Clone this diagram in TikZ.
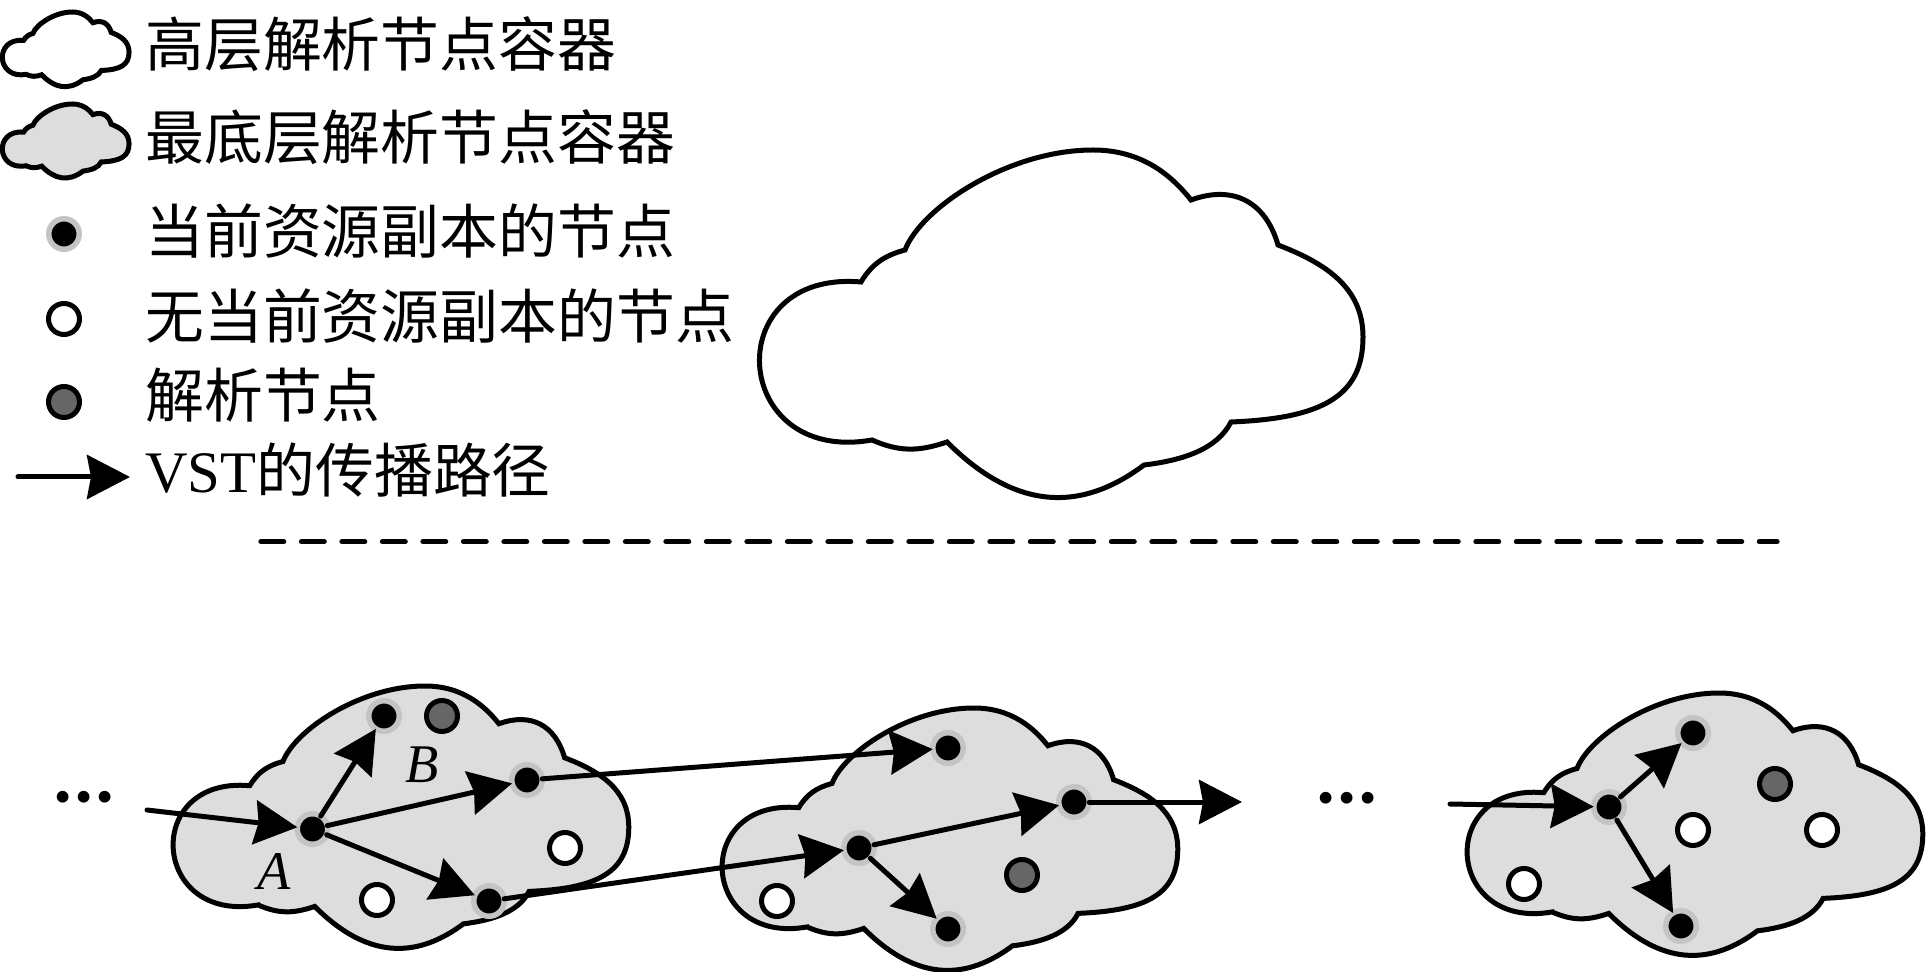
\documentclass[tikz,border=0pt]{standalone}
\usepackage{fontspec}
\setmainfont{Liberation Serif}
\newfontfamily\cjk{Noto Sans CJK SC}
\usetikzlibrary{arrows.meta}
\definecolor{cloudgray}{RGB}{221,221,221}
\definecolor{halo}{RGB}{196,196,196}
\definecolor{dotgray}{RGB}{102,102,102}
\newcommand{\cloudshape}{(114,290) .. controls (-28,315) and (-40,119.5) .. (103,132)
 .. controls (113.8,114) and (126.7,105.4) .. (147,100)
 .. controls (163.1,58) and (250,0) .. (335,0)
 .. controls (385,0) and (414.4,26.6) .. (433,50)
 .. controls (475.3,34.6) and (507.6,51.8) .. (520,95)
 .. controls (566.7,112.9) and (605,137) .. (605,187)
 .. controls (605,247) and (563,268.4) .. (473,272)
 .. controls (459.4,298.7) and (426,310.2) .. (386,315)
 .. controls (314,369) and (249,352) .. (189,292)
 .. controls (160.5,301.6) and (141.5,302) .. cycle}
\newcommand{\threedots}{•\kern0.074cm•\kern0.074cm•}
\begin{document}
\begin{tikzpicture}[x=0.02cm,y=-0.02cm,
  cloudline/.style={draw=black,line width=0.1cm,line join=miter},
  blk/.style={circle,inner sep=0pt,outer sep=0pt,minimum size=0.61cm,line width=0.11cm,draw=halo,fill=black},
  wht/.style={circle,inner sep=0pt,outer sep=0pt,minimum size=0.62cm,line width=0.1cm,draw=black,fill=white},
  gry/.style={wht,fill=dotgray},
  arr/.style={-{Stealth[length=0.86cm,width=0.88cm,inset=0.08cm]},line width=0.1cm,line cap=round},
  legtext/.style={anchor=west,inner sep=0pt,font=\fontsize{33.5pt}{40pt}\selectfont},
  lab/.style={inner sep=0pt,font=\fontsize{31pt}{36pt}\selectfont\itshape},
  ell/.style={anchor=center,inner sep=0pt,font=\fontsize{28pt}{32pt}\selectfont}]
\useasboundingbox (0,0) rectangle (1926,972);

% ---------- clouds ----------
\begin{scope}[shift={(2,12)},xscale=0.21,yscale=0.215]
  \draw[cloudline,fill=white] \cloudshape;
\end{scope}
\begin{scope}[shift={(2,104)},xscale=0.21,yscale=0.213]
  \draw[cloudline,fill=cloudgray] \cloudshape;
\end{scope}
\begin{scope}[shift={(758,150)}]
  \draw[cloudline,fill=white] \cloudshape;
\end{scope}
\begin{scope}[shift={(172,686)},scale=0.755]
  \draw[cloudline,fill=cloudgray] \cloudshape;
\end{scope}
\begin{scope}[shift={(721,708)},scale=0.755]
  \draw[cloudline,fill=cloudgray] \cloudshape;
\end{scope}
\begin{scope}[shift={(1466,693)},scale=0.755]
  \draw[cloudline,fill=cloudgray] \cloudshape;
\end{scope}

% ---------- legend ----------
\node[legtext] (t1) at (145,44) {\cjk 高层解析节点容器};
\node[legtext] (t2) at (145,137) {\cjk 最底层解析节点容器};
\node[blk] (L1) at (64,234) {};
\node[legtext] (t3) at (145,231) {\cjk 当前资源副本的节点};
\node[wht] (L2) at (64,319) {};
\node[legtext] (t4) at (145,316) {\cjk 无当前资源副本的节点};
\node[gry] (L3) at (64,402) {};
\node[legtext] (t5) at (145,395) {\cjk 解析节点};
\coordinate (la1) at (18,477);
\coordinate (la2) at (130,477);
\draw[arr] (la1) -- (la2);
\node[legtext] (t6) at (145,470) {VST{\cjk 的传播路径}};

% ---------- dashed separator ----------
\coordinate (d1) at (261,541.7);
\coordinate (d2) at (1777,541.7);
\draw[line width=0.106cm,line cap=round,dash pattern=on 12.9pt off 10.15pt] (d1) -- (d2);

% ---------- cloud 1 ----------
\node[ell] (e1) at (84,802) {\threedots};
\coordinate (c1in) at (147,810);
\node[blk] (A) at (312.5,829) {};
\node[blk] (N1t) at (384,716) {};
\node[gry] (G1) at (442,716) {};
\node[blk] (N1r) at (527,780) {};
\node[wht] (W1r) at (565,848) {};
\node[wht] (W1b) at (377,900) {};
\node[blk] (N1b) at (489,901) {};
\node[lab] (labA) at (274.5,872) {A};
\node[lab] (labB) at (422,765) {B};

% ---------- cloud 2 ----------
\node[blk] (N2t) at (948,748) {};
\node[blk] (N2l) at (859,848) {};
\node[blk] (N2r) at (1074,802) {};
\node[blk] (N2b) at (948,929) {};
\node[gry] (G2) at (1022,875) {};
\node[wht] (W2) at (777,901) {};
\coordinate (c2out) at (1242,802);
\node[ell] (e2) at (1347,803) {\threedots};

% ---------- cloud 3 ----------
\coordinate (c3in) at (1450,804);
\node[blk] (H3) at (1609,807) {};
\node[blk] (N3t) at (1693,733) {};
\node[blk] (N3b) at (1681,926) {};
\node[gry] (G3) at (1775,784) {};
\node[wht] (W3m) at (1693,830) {};
\node[wht] (W3r) at (1822,830) {};
\node[wht] (W3l) at (1524,884) {};

% ---------- propagation arrows ----------
\draw[arr] (c1in) -- (A);
\draw[arr] (A) -- (N1t);
\draw[arr] (A) -- (N1r);
\draw[arr] (A) -- (N1b);
\draw[arr] (N1r) -- (N2t);
\draw[arr] (N1b) -- (N2l);
\draw[arr] (N2l) -- (N2r);
\draw[arr] (N2l) -- (N2b);
\draw[arr] (N2r) -- (c2out);
\draw[arr] (c3in) -- (H3);
\draw[arr] (H3) -- (N3t);
\draw[arr] (H3) -- (N3b);
\end{tikzpicture}
\end{document}
